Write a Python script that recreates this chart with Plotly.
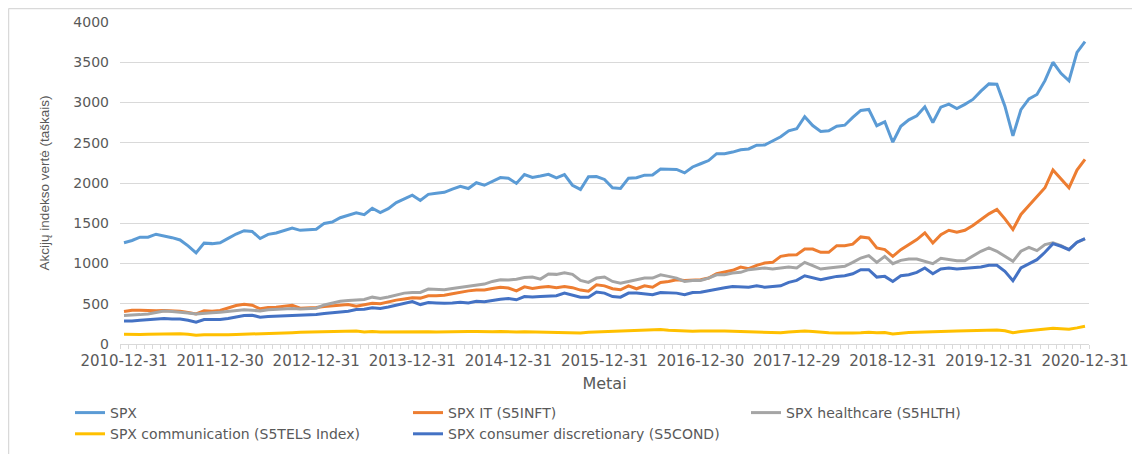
"""
S&P 500 and sector indices, monthly closes 2010-12 .. 2020-12.
Rebuilt as a Plotly line chart in the style of the Excel original.
"""

import pandas as pd
import plotly.graph_objects as go

# Monthly observations (month ends), 121 of them.
MONTHS = pd.date_range("2010-12-31", "2020-12-31", freq="ME")

# Labels shown under the axis, one per year.
TICK_LABELS = [
    "2010-12-31", "2011-12-30", "2012-12-31", "2013-12-31", "2014-12-31",
    "2015-12-31", "2016-12-30", "2017-12-29", "2018-12-31", "2019-12-31",
    "2020-12-31",
]

SPX = [
    1258,
    1286, 1327, 1326, 1364, 1345, 1321, 1292, 1219, 1131, 1253, 1247, 1258,
    1312, 1366, 1408, 1398, 1310, 1362, 1379, 1407, 1441, 1412, 1416, 1426,
    1498, 1515, 1569, 1598, 1631, 1606, 1686, 1633, 1682, 1757, 1806, 1848,
    1783, 1859, 1872, 1884, 1924, 1960, 1931, 2003, 1972, 2018, 2068, 2059,
    1995, 2105, 2068, 2086, 2107, 2063, 2104, 1972, 1920, 2079, 2080, 2044,
    1940, 1932, 2060, 2065, 2097, 2099, 2174, 2171, 2168, 2126, 2199, 2239,
    2279, 2364, 2363, 2384, 2412, 2423, 2470, 2472, 2519, 2575, 2648, 2674,
    2824, 2714, 2641, 2648, 2705, 2718, 2816, 2902, 2914, 2712, 2760, 2507,
    2704, 2784, 2834, 2946, 2752, 2942, 2980, 2926, 2977, 3038, 3141, 3231,
    3226, 2954, 2585, 2912, 3044, 3100, 3271, 3500, 3363, 3270, 3622, 3756,
]

SPX_IT = [
    403,
    420, 418, 412, 414, 416, 410, 407, 391, 374, 412, 407, 416,
    445, 478, 495, 482, 437, 453, 457, 474, 482, 445, 445, 453,
    466, 475, 482, 490, 470, 490, 505, 500, 525, 545, 560, 575,
    570, 600, 600, 605, 625, 645, 660, 670, 672, 690, 705, 695,
    660, 710, 690, 705, 715, 700, 715, 700, 670, 655, 735, 722,
    686, 673, 723, 686, 723, 706, 765, 777, 798, 790, 790, 798,
    819, 873, 894, 915, 956, 936, 977, 1006, 1014, 1089, 1106, 1110,
    1180, 1180, 1139, 1139, 1222, 1222, 1240, 1330, 1318, 1193, 1172, 1089,
    1172, 1235, 1297, 1380, 1255, 1359, 1413, 1388, 1413, 1471, 1546, 1617,
    1671, 1555, 1422, 1609, 1721, 1837, 1941, 2161, 2045, 1941, 2161, 2294,
]

SPX_HEALTH = [
    355,
    358, 365, 374, 395, 410, 405, 398, 385, 374, 385, 387, 395,
    405, 414, 424, 420, 410, 425, 432, 435, 440, 435, 440, 445,
    485, 505, 530, 540, 550, 552, 582, 565, 585, 610, 632, 640,
    640, 682, 680, 675, 690, 705, 723, 735, 744, 777, 798, 795,
    805, 825, 831, 806, 869, 865, 885, 865, 790, 765, 819, 832,
    777, 756, 777, 798, 819, 819, 860, 840, 819, 777, 790, 790,
    819, 860, 860, 881, 890, 923, 931, 944, 931, 944, 956, 944,
    1014, 973, 931, 944, 956, 965, 1014, 1068, 1098, 1014, 1089, 998,
    1039, 1056, 1056, 1027, 998, 1064, 1048, 1035, 1035, 1098, 1152, 1193,
    1152, 1089, 1027, 1152, 1201, 1160, 1235, 1256, 1222, 1172, 1264, 1305,
]

SPX_COMM = [
    121,
    115, 118, 122, 125, 128, 130, 128, 122, 110, 115, 113, 112,
    115, 118, 120, 122, 124, 128, 132, 135, 140, 145, 148, 145,
    150, 152, 155, 162, 160, 150, 155, 148, 150, 152, 152, 150,
    150, 152, 150, 153, 155, 158, 155, 155, 150, 152, 155, 150,
    148, 152, 150, 153, 150, 145, 148, 140, 138, 145, 148, 150,
    155, 158, 165, 162, 165, 175, 180, 172, 168, 160, 158, 162,
    165, 168, 162, 158, 155, 152, 150, 150, 145, 140, 150, 155,
    162, 155, 145, 140, 138, 135, 138, 140, 145, 140, 142, 125,
    138, 142, 145, 150, 148, 155, 158, 160, 162, 165, 168, 172,
    175, 165, 141, 155, 166, 170, 180, 195, 188, 183, 200, 220,
]

SPX_CONS = [
    287,
    285, 295, 303, 312, 316, 312, 310, 295, 270, 303, 303, 303,
    316, 333, 353, 358, 333, 341, 345, 350, 353, 350, 355, 366,
    378, 385, 395, 407, 428, 432, 449, 440, 460, 485, 510, 528,
    490, 515, 510, 505, 510, 520, 510, 530, 525, 545, 557, 565,
    549, 590, 585, 590, 590, 599, 632, 610, 582, 580, 645, 632,
    590, 582, 632, 632, 624, 611, 640, 632, 632, 611, 640, 644,
    665, 682, 698, 715, 715, 706, 723, 706, 715, 723, 765, 790,
    848, 819, 798, 819, 840, 848, 873, 923, 923, 831, 840, 777,
    848, 860, 890, 944, 873, 931, 944, 931, 940, 940, 956, 977,
    977, 902, 786, 944, 994, 1048, 1139, 1247, 1214, 1172, 1264, 1310,
]

SERIES = [
    ("SPX", SPX, "#5B9BD5"),
    ("SPX IT (S5INFT)", SPX_IT, "#ED7D31"),
    ("SPX healthcare (S5HLTH)", SPX_HEALTH, "#A5A5A5"),
    ("SPX communication (S5TELS Index)", SPX_COMM, "#FFC000"),
    ("SPX consumer discretionary (S5COND)", SPX_CONS, "#4472C4"),
]

# The page body has an 8 px margin, so the figure is drawn 8 px in from
# the window corner; everything below is measured in window pixels.
PAGE = 8
W, H = 1140 - PAGE, 454 - PAGE
PLOT_L, PLOT_R, PLOT_T, PLOT_B = 120, 1089, 22, 344
ML, MT = PLOT_L - PAGE, PLOT_T - PAGE
MR, MB = W - (PLOT_R - PAGE), H - (PLOT_B - PAGE)
TEXT = "#595959"
GRID = "#D9D9D9"


def px_x(p):
    return (p - PLOT_L) / (PLOT_R - PLOT_L)


def px_y(p):
    return (PLOT_B - p) / (PLOT_B - PLOT_T)


x = list(range(len(MONTHS)))
label_pos = [i for i, m in enumerate(MONTHS) if m.month == 12]

fig = go.Figure()
for name, vals, color in SERIES:
    fig.add_trace(go.Scatter(
        x=x, y=vals, name=name, mode="lines",
        line=dict(color=color, width=3),
    ))

# Excel-style chart-area frame (left and top edges are visible).
fig.add_shape(type="line", xref="paper", yref="paper",
              x0=px_x(8.5), x1=px_x(1140), y0=px_y(8.5), y1=px_y(8.5),
              line=dict(color="#D9D9D9", width=1.5))
fig.add_shape(type="line", xref="paper", yref="paper",
              x0=px_x(8.5), x1=px_x(8.5), y0=px_y(8.5), y1=px_y(454),
              line=dict(color="#D9D9D9", width=1.5))

fig.update_layout(
    width=W, height=H,
    margin=dict(l=ML, r=MR, t=MT, b=MB, autoexpand=False),
    paper_bgcolor="white", plot_bgcolor="white",
    font=dict(family="DejaVu Sans", color=TEXT),
    showlegend=True,
    legend=dict(
        orientation="h", x=px_x(70), y=px_y(397),
        xanchor="left", yanchor="top",
        entrywidth=293, tracegroupgap=0,
        font=dict(size=14, color=TEXT),
    ),
    xaxis=dict(
        range=[-0.5, len(MONTHS) - 0.5],
        tickvals=label_pos, ticktext=TICK_LABELS,
        ticks="", showgrid=False, zeroline=False, automargin=False,
        showline=True, linecolor=GRID, linewidth=1,
        tickfont=dict(size=15, color=TEXT),
        ticklabelstandoff=3,
        minor=dict(ticks="outside", tick0=-0.5, dtick=1, ticklen=4,
                   tickcolor=GRID, showgrid=False),
        title=dict(text="Metai", font=dict(size=16, color=TEXT), standoff=8),
    ),
    yaxis=dict(
        range=[0, 4000], dtick=500, automargin=False,
        showgrid=True, gridcolor=GRID, gridwidth=1,
        zeroline=False, showline=False, ticks="",
        tickfont=dict(size=14, color=TEXT),
        ticklabelstandoff=10,
        title=dict(text="Akcijų indekso vertė (taškais)",
                   font=dict(size=13.5, family="Liberation Sans", color=TEXT),
                   standoff=20),
    ),
)

fig.write_html("out.html")
